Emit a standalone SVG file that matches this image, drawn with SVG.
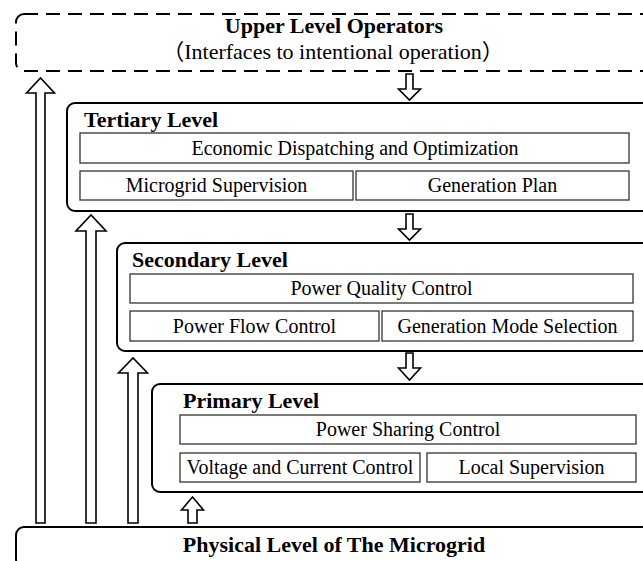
<svg xmlns="http://www.w3.org/2000/svg" width="643" height="561" viewBox="0 0 643 561">
<style>
.lvl{fill:#fff;stroke:#000;stroke-width:2}
.dash{fill:#fff;stroke:#000;stroke-width:2;stroke-dasharray:14 8}
.box{fill:#fff;stroke:#333;stroke-width:1.3}
.t{font-family:"Liberation Serif","Times New Roman","Noto Sans CJK SC",serif;font-size:20px;fill:#000}
.b{font-family:"Liberation Serif","Times New Roman",serif;font-size:22px;font-weight:bold;fill:#000}
.sub{font-family:"Liberation Serif","Times New Roman","Noto Sans CJK SC",serif;font-size:22px;fill:#000}
.m{text-anchor:middle}
.arr{fill:#fff;stroke:#000;stroke-width:1.6;stroke-linejoin:miter}
</style>
<rect width="643" height="561" fill="#fff"/>
<g id="upper-level-operators">
<rect class="dash" x="16" y="14" width="650" height="57" rx="8"/>
<text class="b m" x="334" y="33">Upper Level Operators</text>
<text class="sub m" x="333" y="59">（Interfaces to intentional operation）</text>
</g>
<g id="tertiary-level">
<rect class="lvl" x="67" y="103" width="600" height="108" rx="8"/>
<text class="b" x="84" y="127">Tertiary Level</text>
<rect class="box" x="80" y="133" width="549" height="30"/>
<text class="t m" x="355" y="155">Economic Dispatching and Optimization</text>
<rect class="box" x="80" y="171" width="273" height="29"/>
<text class="t m" x="216.5" y="192">Microgrid Supervision</text>
<rect class="box" x="356" y="171" width="273" height="29"/>
<text class="t m" x="492.5" y="192">Generation Plan</text>
</g>
<g id="secondary-level">
<rect class="lvl" x="117" y="243" width="560" height="108" rx="8"/>
<text class="b" x="132" y="267">Secondary Level</text>
<rect class="box" x="130" y="274" width="503" height="29"/>
<text class="t m" x="381.5" y="295">Power Quality Control</text>
<rect class="box" x="130" y="311" width="249" height="30"/>
<text class="t m" x="254.5" y="333">Power Flow Control</text>
<rect class="box" x="382" y="311" width="251" height="30"/>
<text class="t m" x="507.5" y="333">Generation Mode Selection</text>
</g>
<g id="primary-level">
<rect class="lvl" x="152" y="384" width="520" height="108" rx="8"/>
<text class="b" x="183" y="408">Primary Level</text>
<rect class="box" x="180" y="415" width="456" height="29"/>
<text class="t m" x="408" y="436">Power Sharing Control</text>
<rect class="box" x="180" y="453" width="240" height="29"/>
<text class="t m" x="300" y="474">Voltage and Current Control</text>
<rect class="box" x="427" y="453" width="209" height="29"/>
<text class="t m" x="531.5" y="474">Local Supervision</text>
</g>
<g id="physical-level">
<rect class="lvl" x="16" y="527" width="660" height="40" rx="8"/>
<text class="b m" x="334" y="552">Physical Level of The Microgrid</text>
</g>
<g id="connectors">
<polygon class="arr" points="36,523 36,93 26.5,93 40.5,78 54.5,93 45,93 45,523"/>
<polygon class="arr" points="86,523 86,231 76,231 91,215 106,231 96,231 96,523"/>
<polygon class="arr" points="128,523 128,373 118.5,373 133,358 147.5,373 138,373 138,523"/>
<polygon class="arr" points="188,523 188,510 181.5,510 192.5,497 203.5,510 197,510 197,523"/>
<polygon class="arr" points="406,74 406,89 398.5,89 409.5,100 420.5,89 413,89 413,74"/>
<polygon class="arr" points="406,214 406,229 398.5,229 409.5,240 420.5,229 413,229 413,214"/>
<polygon class="arr" points="406,353 406,368 398.5,368 409.5,380 420.5,368 413,368 413,353"/>
</g>
</svg>
